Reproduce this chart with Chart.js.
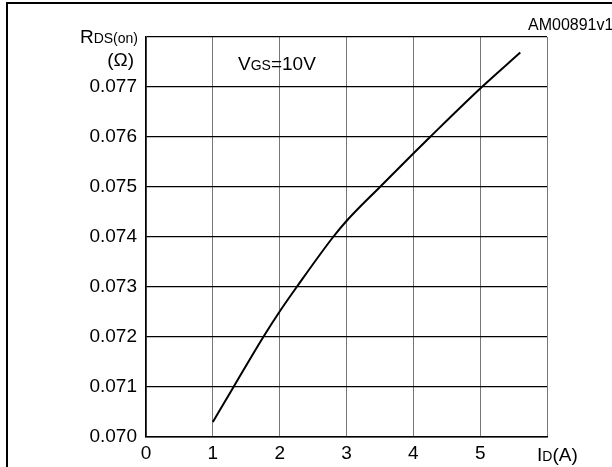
<!DOCTYPE html>
<html>
<head>
<meta charset="utf-8">
<script src="https://cdn.jsdelivr.net/npm/chart.js@4/dist/chart.umd.min.js"></script>
<style>
  html, body { margin: 0; padding: 0; background: #fff; }
  #wrap { position: relative; width: 612px; height: 467px; }
</style>
</head>
<body>
<div id="wrap"><canvas id="c" width="612" height="467"></canvas></div>
<script>
// Drain current I_D (A)
const idValues = [1.0, 1.31, 1.755, 2.0, 2.255, 2.8, 3.0, 3.5, 4.0, 4.25, 5.025, 5.6];
// R_DS(on) (Ohm)
const rdsValues = [0.0703, 0.0710, 0.0720, 0.07251, 0.0730, 0.0740, 0.07432, 0.0750, 0.07567, 0.0760, 0.0770, 0.07769];
// Axis ticks
const xTicks = [0, 1, 2, 3, 4, 5, 6];
const yTicks = [0.070, 0.071, 0.072, 0.073, 0.074, 0.075, 0.076, 0.077, 0.078];

const FONT = "'Liberation Sans', Arial, Helvetica, sans-serif";

const points = idValues.map((x, i) => ({ x: x, y: rdsValues[i] }));

const textPlugin = {
  id: 'texts',
  afterDraw(chart) {
    const ctx = chart.ctx;
    ctx.save();
    // outer frame (left and top)
    ctx.strokeStyle = '#000';
    ctx.lineWidth = 2;
    ctx.beginPath();
    ctx.moveTo(7, 467);
    ctx.lineTo(7, 3);
    ctx.lineTo(612, 3);
    ctx.stroke();

    ctx.fillStyle = '#000';
    ctx.textBaseline = 'alphabetic';

    function sub(parts, x, y, align) {
      let total = 0;
      parts.forEach(p => { ctx.font = p[1] + 'px ' + FONT; total += ctx.measureText(p[0]).width; });
      let cx = align === 'right' ? x - total : (align === 'center' ? x - total / 2 : x);
      ctx.textAlign = 'left';
      parts.forEach(p => { ctx.font = p[1] + 'px ' + FONT; ctx.fillText(p[0], cx, y); cx += ctx.measureText(p[0]).width; });
    }
    // Y-axis title
    sub([['R', 19], ['DS(on)', 14]], 138, 43, 'right');
    ctx.font = '19px ' + FONT;
    ctx.textAlign = 'right';
    ctx.fillText('(\u03A9)', 134, 66);
    // annotation
    sub([['V', 19], ['GS', 14], ['=10V', 19]], 238, 70);
    // X-axis title
    sub([['I', 19], ['D', 14], ['(A)', 19]], 537, 461);
    // figure code
    ctx.font = '16px ' + FONT;
    ctx.textAlign = 'left';
    ctx.fillText('AM00891v1', 528, 30);
    ctx.restore();
  }
};

new Chart(document.getElementById('c'), {
  type: 'scatter',
  data: {
    datasets: [{
      data: points,
      showLine: true,
      borderColor: '#000',
      borderWidth: 2,
      pointRadius: 0,
      cubicInterpolationMode: 'monotone',
      fill: false
    }]
  },
  options: {
    responsive: false,
    animation: false,
    devicePixelRatio: 1,
    layout: { padding: { top: 37, right: 65, left: 0, bottom: 0 } },
    plugins: { legend: { display: false }, tooltip: { enabled: false } },
    scales: {
      x: {
        type: 'linear',
        min: xTicks[0],
        max: xTicks[xTicks.length - 1],
        afterBuildTicks(scale) { scale.ticks = xTicks.map(v => ({ value: v })); },
        afterFit(scale) { scale.height = 30; },
        grid: { color: '#777', lineWidth: 1, drawTicks: false },
        border: { color: '#000', width: 1.5 },
        ticks: {
          color: '#000',
          font: { family: FONT, size: 19 },
          padding: 5,
          maxRotation: 0,
          autoSkip: false,
          callback: v => (v === 6 ? '' : String(v))
        }
      },
      y: {
        type: 'linear',
        min: yTicks[0],
        max: yTicks[yTicks.length - 1],
        afterBuildTicks(scale) { scale.ticks = yTicks.map(v => ({ value: v })); },
        afterFit(scale) { scale.width = 146; },
        grid: { color: '#000', lineWidth: 1.2, drawTicks: false },
        border: { color: '#000', width: 1.5 },
        ticks: {
          color: '#000',
          font: { family: FONT, size: 19 },
          padding: 9,
          autoSkip: false,
          callback: v => (Math.abs(v - 0.078) < 1e-9 ? '' : v.toFixed(3))
        }
      }
    }
  },
  plugins: [textPlugin]
});
</script>
</body>
</html>
